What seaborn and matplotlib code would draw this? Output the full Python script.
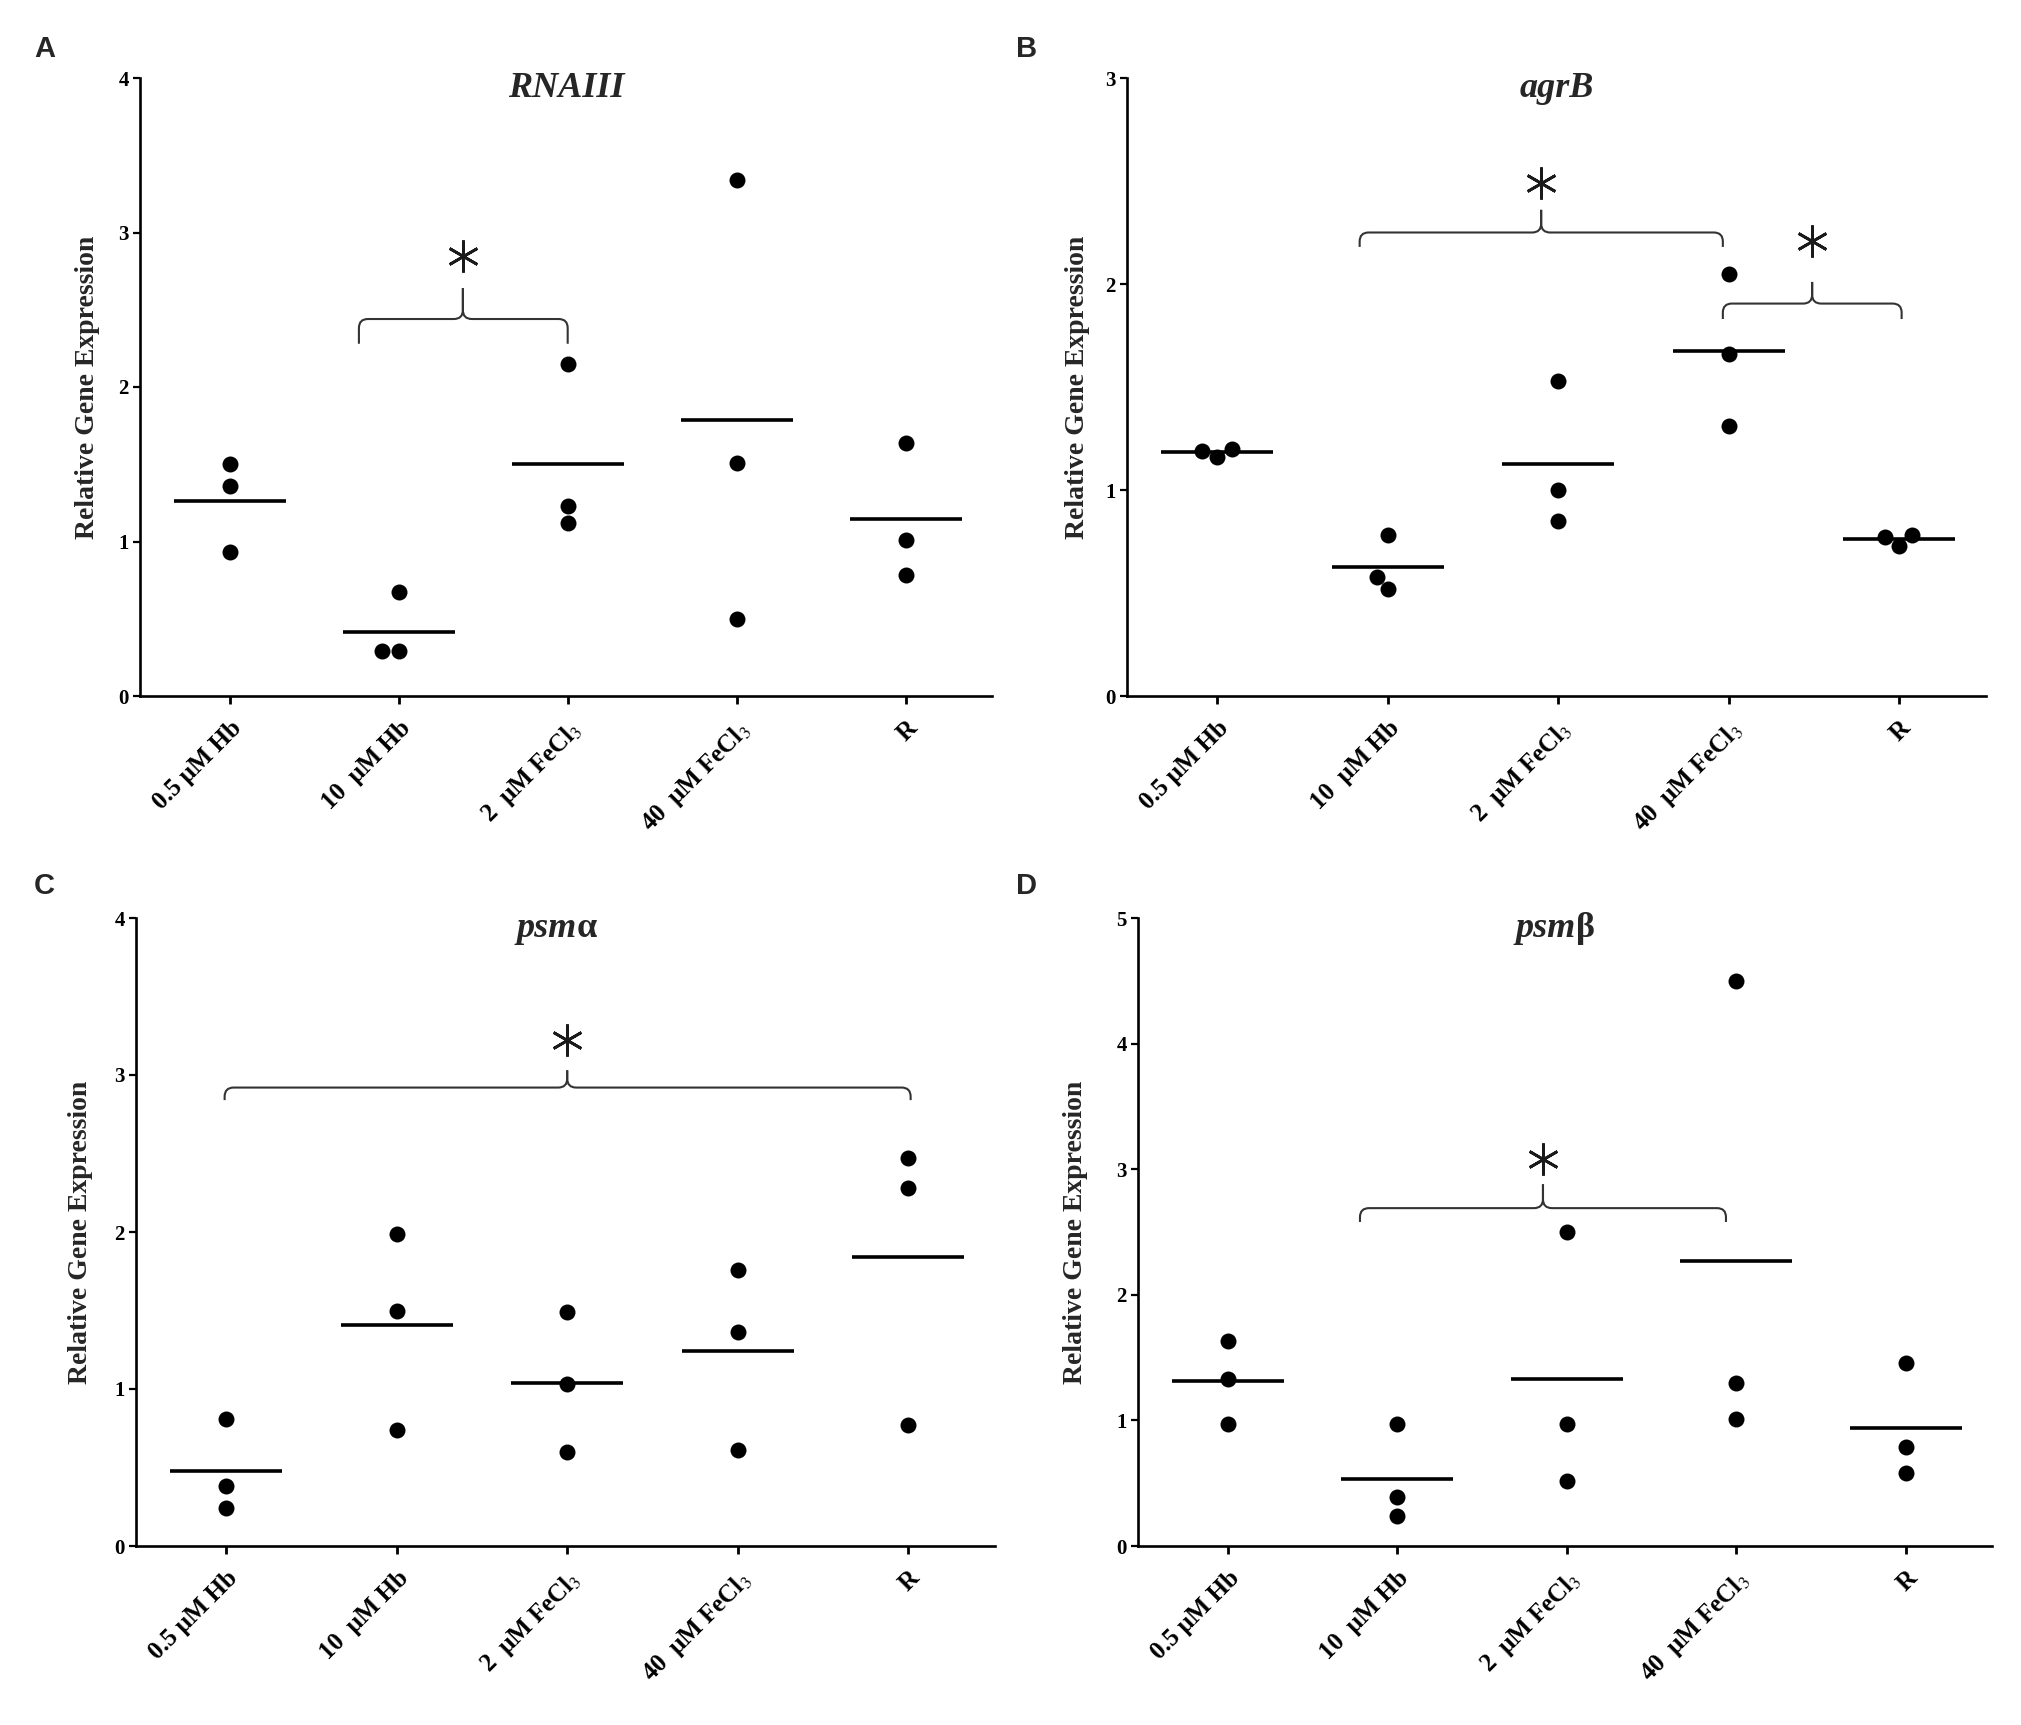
import numpy as np
import pandas as pd
import matplotlib
matplotlib.use("Agg")
import matplotlib.pyplot as plt
from matplotlib.path import Path
from matplotlib.patches import PathPatch
import seaborn as sns

# ---------------- data ----------------
groups = ["0.5Hb", "10Hb", "2Fe", "40Fe", "R"]
tick_labels = ["0.5 μM Hb", "10  μM Hb", "2  μM FeCl$_3$", "40  μM FeCl$_3$", "R"]

rnaiii_vals = [[1.50, 1.36, 0.93], [0.67, 0.29, 0.29], [2.15, 1.23, 1.12],
               [3.34, 1.51, 0.50], [1.64, 1.01, 0.78]]
agrb_vals = [[1.20, 1.16, 1.19], [0.78, 0.58, 0.52], [1.53, 1.00, 0.85],
             [2.05, 1.66, 1.31], [0.78, 0.73, 0.77]]
psma_vals = [[0.81, 0.38, 0.24], [1.99, 1.50, 0.74], [1.49, 1.03, 0.60],
             [1.76, 1.36, 0.61], [2.47, 2.28, 0.77]]
psmb_vals = [[1.63, 1.33, 0.975], [0.97, 0.39, 0.24], [2.50, 0.97, 0.52],
             [4.50, 1.30, 1.015], [1.46, 0.79, 0.58]]

panel_letters = ["A", "B", "C", "D"]
y_max = [4, 3, 4, 5]

# significance braces: (x_start, x_end, x_mid, y_line, y_end, y_peak, y_star)
braces_A = [(0.765, 2.0, 1.38, 2.44, 2.28, 2.64, 2.85)]
braces_B = [(0.835, 2.966, 1.90, 2.25, 2.18, 2.36, 2.49),
            (2.966, 4.015, 3.49, 1.905, 1.83, 2.01, 2.21)]
braces_C = [(-0.01, 4.015, 2.0, 2.92, 2.84, 3.03, 3.22)]
braces_D = [(0.78, 2.94, 1.86, 2.69, 2.58, 2.88, 3.08)]


def to_df(vals):
    rows = []
    for g, vs in zip(groups, vals):
        for v in vs:
            rows.append({"group": g, "value": v})
    return pd.DataFrame(rows)


# ---------------- style ----------------
sns.set_theme(style="ticks")
plt.rcParams["font.family"] = ["Liberation Serif", "DejaVu Serif"]
plt.rcParams["mathtext.fontset"] = "stix"

W, H = 2021, 1725
fig = plt.figure(figsize=(W / 100, H / 100), dpi=100)

# axes rectangles in pixel coords (left, top, right, bottom)
rects = [(140, 78, 992, 696), (1127, 78, 1986, 696),
         (136, 918, 995, 1546), (1138, 918, 1992, 1546)]
ylabel_off = [-52, -49, -55, -62]
letter_pos = [(34, 35), (1016, 35), (34, 872), (1016, 872)]
all_vals = [rnaiii_vals, agrb_vals, psma_vals, psmb_vals]
all_braces = [braces_A, braces_B, braces_C, braces_D]

serif_bold = dict(family="Liberation Serif", weight="bold")


def draw_brace(ax, b, rx_px=9, ry_px=9):
    x1, x2, xm, y, yend, ypk, ystar = b
    bb = ax.get_window_extent()
    xl = ax.get_xlim(); yl = ax.get_ylim()
    rx = rx_px * (xl[1] - xl[0]) / bb.width
    ry = ry_px * (yl[1] - yl[0]) / bb.height
    ry2 = min(ry, (y - yend) * 0.8)
    for xe, sgn in ((x1, 1), (x2, -1)):
        verts = [(xe, yend), (xe, y - ry2), (xe, y), (xe + sgn * rx, y),
                 (xm - sgn * rx, y), (xm, y), (xm, y + ry), (xm, ypk)]
        codes = [Path.MOVETO, Path.LINETO, Path.CURVE3, Path.CURVE3,
                 Path.LINETO, Path.CURVE3, Path.CURVE3, Path.LINETO]
        ax.add_patch(PathPatch(Path(verts, codes), fill=False, lw=1.5,
                               edgecolor="#333333", capstyle="butt",
                               joinstyle="round", clip_on=False))
    ax.plot([xm], [ystar], marker=(6, 2, 0), ms=23, mew=2.0,
            color="#1a1a1a", linestyle="none", clip_on=False)


for i in range(4):
    l, t, r, b = rects[i]
    ax = fig.add_axes([l / W, 1 - b / H, (r - l) / W, (b - t) / H])
    df = to_df(all_vals[i])
    sns.swarmplot(data=df, x="group", y="value", order=groups, color="black",
                  size=11.5, linewidth=0, ax=ax, clip_on=False)
    sns.pointplot(data=df, x="group", y="value", order=groups,
                  estimator="mean", errorbar=None, color="black",
                  marker="_", markersize=81, markeredgewidth=2.6,
                  linestyle="none", ax=ax)
    ax.set_xlim(-0.53, 4.51)
    ax.set_ylim(0, y_max[i])
    ax.set_yticks(range(0, y_max[i] + 1))
    ax.set_yticklabels([str(v) for v in range(0, y_max[i] + 1)],
                       fontsize=15, **serif_bold)
    ax.set_xticks(range(5))
    ax.set_xticklabels(tick_labels, rotation=45, ha="right", va="top",
                       rotation_mode="anchor", fontsize=18, **serif_bold)
    ax.set_xlabel("")
    ax.set_ylabel("Relative Gene Expression", fontsize=20, **serif_bold)
    ax.yaxis.label.set_va("center")
    ax.yaxis.set_label_coords(ylabel_off[i] / (r - l), 0.5)
    sns.despine(ax=ax)
    for s in ("left", "bottom"):
        ax.spines[s].set_linewidth(1.9)
        ax.spines[s].set_color("black")
    ax.tick_params(axis="x", length=6, width=2.0, pad=9, colors="black")
    ax.tick_params(axis="y", length=5, width=1.6, pad=3, colors="black")
    ax.grid(False)

    # gene titles
    ty = 1 - 19 / (b - t)
    if i == 0:
        ax.text(0.5, ty, "RNAIII", transform=ax.transAxes, ha="center",
                va="baseline", fontsize=26, family="Liberation Serif",
                weight="bold", style="italic")
    elif i == 1:
        ax.text(0.5, ty, "agrB", transform=ax.transAxes, ha="center",
                va="baseline", fontsize=26, family="Liberation Serif",
                weight="bold", style="italic")
    else:
        greek = "α" if i == 2 else "β"
        t1 = ax.text(0.513, ty, "psm", transform=ax.transAxes, ha="right",
                     va="baseline", fontsize=26, family="Liberation Serif",
                     weight="bold", style="italic")
        ax.annotate(greek, xy=(1, 0), xycoords=t1, ha="left", va="bottom",
                    fontsize=26, family="Liberation Serif", weight="bold")

    for br in all_braces[i]:
        draw_brace(ax, br)

    lx, ly = letter_pos[i]
    fig.text(lx / W, 1 - ly / H, panel_letters[i], ha="left", va="top",
             fontsize=21, family="Liberation Sans", weight="bold")

fig.savefig("out.png", dpi=100)
